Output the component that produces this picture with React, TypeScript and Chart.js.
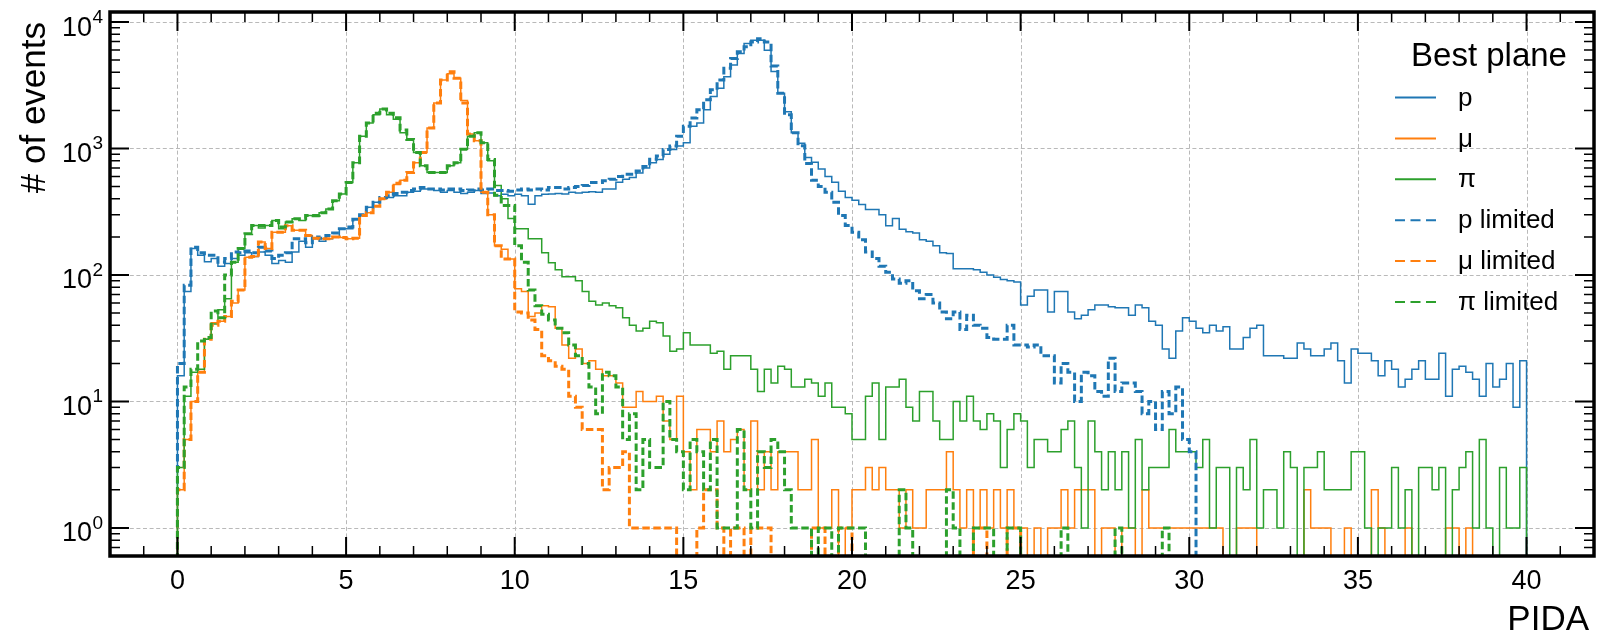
import { useEffect, useRef } from 'react';
import { Chart, registerables } from 'chart.js';

Chart.register(...registerables);

// Histogram binning: 200 bins of width 0.2 starting at PIDA = 0
const BIN_START = 0;
const BIN_WIDTH = 0.2;

// Event counts per bin, "Best plane" selection
const pCounts = [
  16, 74, 162, 143, 127, 135, 117, 123, 135, 143,
  150, 140, 152, 143, 123, 130, 126, 152, 185, 166,
  193, 185, 193, 200, 232, 232, 276, 295, 343, 375,
  400, 410, 423, 423, 450, 460, 478, 478, 465, 450,
  465, 450, 440, 450, 465, 440, 445, 423, 435, 423,
  435, 423, 363, 423, 435, 436, 440, 436, 450, 445,
  450, 455, 450, 478, 478, 540, 571, 590, 640, 700,
  773, 820, 900, 980, 1045, 1110, 1500, 1592, 2026, 2576,
  2997, 3700, 4570, 5640, 6755, 7170, 7170, 5990, 4070, 2740,
  1950, 1330, 1100, 850, 780, 690, 600, 540, 460, 410,
  390, 360, 330, 330, 300, 245, 280, 230, 220, 215,
  190, 185, 170, 150, 148, 112, 112, 112, 110, 105,
  100, 96, 92, 90, 88, 58, 68, 76, 76, 51,
  74, 74, 51, 45, 48, 53, 58, 58, 56, 55,
  55, 48, 58, 55, 43, 40, 26, 22, 36, 46,
  43, 38, 35, 40, 36, 39, 26, 26, 32, 38,
  40, 23, 23, 23, 22, 22, 29, 26, 23, 23,
  26, 29, 21, 14, 26, 24, 24, 21, 16, 21,
  18, 13, 15, 18, 21, 15, 15, 24, 11, 18,
  19, 17, 15, 11, 20, 13, 15, 20, 9, 21,
];

const muCounts = [
  2, 5, 10, 17, 31, 42, 43, 47, 60, 76,
  138, 140, 182, 162, 218, 218, 245, 226, 226, 205,
  195, 193, 193, 200, 198, 193, 195, 295, 310, 350,
  400, 450, 520, 560, 645, 770, 930, 1450, 2290, 3480,
  3900, 3600, 2400, 1300, 1150, 450, 300, 170, 160, 134,
  78, 74, 47, 50, 57, 56, 38, 28, 22, 26,
  20, 21, 18, 16, 16, 14, 9, 9, 12, 10,
  10, 11, 7, 5, 11, 4, 2, 6, 6, 4,
  7, 4, 5, 6, 2, 7, 2, 4, 2, 4,
  4, 4, 2, 2, 5, 1, 1, 2, 0, 1,
  2, 2, 3, 2, 3, 2, 2, 1, 2, 1,
  1, 2, 2, 2, 4, 2, 1, 2, 1, 2,
  1, 2, 1, 2, 1, 1, 0, 1, 0, 1,
  1, 2, 1, 2, 2, 2, 0, 1, 1, 0,
  1, 1, 0, 2, 1, 1, 1, 1, 1, 1,
  1, 1, 1, 1, 1, 0, 0, 1, 1, 1,
  0, 0, 0, 0, 0, 0, 0, 2, 1, 1,
  1, 0, 0, 1, 0, 0, 0, 2, 1, 0,
  0, 0, 1, 0, 0, 0, 0, 0, 1, 1,
  0, 1, 0, 0, 0, 0, 0, 0, 0, 0,
];

const piCounts = [
  3, 11, 17, 18, 31, 41, 53, 65, 126, 162,
  212, 246, 235, 246, 270, 232, 262, 278, 270, 295,
  290, 310, 333, 387, 436, 538, 773, 1250, 1590, 1850,
  2050, 1850, 1700, 1330, 1180, 930, 730, 645, 645, 645,
  730, 773, 985, 1250, 1330, 1110, 800, 510, 400, 280,
  232, 232, 193, 193, 150, 125, 110, 97, 97, 90,
  74, 62, 58, 60, 57, 55, 46, 40, 36, 38,
  43, 42, 33, 25, 26, 35, 28, 28, 28, 24,
  25, 18, 23, 23, 23, 18, 12, 18, 14, 19,
  18, 13, 13, 15, 14, 11, 14, 9, 9, 8,
  5, 5, 11, 14, 5, 13, 13, 15, 9, 7,
  12, 12, 7, 5, 5, 10, 7, 11, 7, 6,
  8, 7, 3, 6, 8, 7, 3, 5, 5, 4,
  4, 6, 7, 3, 1, 7, 4, 2, 4, 2,
  4, 1, 5, 2, 3, 3, 3, 6, 4, 4,
  4, 3, 5, 1, 3, 3, 0, 3, 2, 5,
  1, 2, 2, 1, 4, 3, 0, 3, 3, 4,
  2, 2, 2, 2, 4, 4, 1, 0, 1, 1,
  3, 1, 2, 0, 3, 3, 2, 3, 0, 2,
  3, 4, 1, 5, 1, 0, 3, 1, 1, 3,
];

// Event counts per bin, "limited" selection
const pLimitedCounts = [
  20, 83, 166, 150, 143, 143, 126, 135, 152, 150,
  155, 150, 166, 155, 135, 143, 150, 193, 193, 180,
  200, 195, 205, 215, 232, 240, 276, 300, 343, 375,
  410, 423, 440, 450, 465, 478, 492, 478, 478, 470,
  478, 478, 465, 470, 478, 470, 478, 465, 465, 460,
  470, 478, 470, 478, 470, 492, 492, 478, 492, 500,
  510, 538, 538, 555, 571, 600, 626, 626, 665, 720,
  822, 873, 980, 1045, 1252, 1500, 1742, 2026, 2427, 2908,
  3485, 4303, 5155, 5810, 6360, 6960, 7390, 6960, 4500, 2740,
  1850, 1330, 1050, 760, 560, 500, 450, 375, 295, 246,
  218, 190, 152, 135, 117, 105, 93, 86, 90, 75,
  65, 70, 60, 51, 45, 51, 37, 48, 40, 38,
  32, 31, 31, 40, 28, 28, 27, 28, 23, 23,
  14, 20, 17, 10, 17, 16, 12, 11, 22, 12,
  14, 14, 12, 8, 10, 6, 12, 8, 13, 5,
  4, 0, 0, 0, 0, 0, 0, 0, 0, 0,
  0, 0, 0, 0, 0, 0, 0, 0, 0, 0,
  0, 0, 0, 0, 0, 0, 0, 0, 0, 0,
  0, 0, 0, 0, 0, 0, 0, 0, 0, 0,
  0, 0, 0, 0, 0, 0, 0, 0, 0, 0,
];

const muLimitedCounts = [
  2, 5, 10, 17, 31, 40, 43, 47, 62, 76,
  138, 140, 182, 162, 218, 218, 245, 226, 226, 205,
  195, 193, 193, 200, 198, 193, 195, 295, 310, 350,
  400, 450, 530, 560, 645, 770, 930, 1450, 2290, 3480,
  4050, 3600, 2290, 1300, 1150, 450, 300, 170, 134, 134,
  51, 50, 44, 37, 23, 21, 19, 18, 11, 9,
  6, 6, 6, 2, 3, 3, 4, 1, 1, 1,
  1, 1, 1, 1, 0, 0, 0, 1, 2, 2,
  1, 0, 1, 1, 0, 1, 1, 1, 0, 0,
  0, 0, 0, 0, 1, 1, 0, 0, 1, 1,
  0, 0, 0, 0, 0, 0, 0, 0, 0, 0,
  0, 0, 0, 0, 0, 0, 0, 0, 1, 1,
  0, 0, 0, 1, 1, 0, 0, 0, 0, 0,
  0, 0, 0, 0, 0, 0, 0, 0, 0, 0,
  0, 0, 0, 0, 0, 0, 0, 0, 0, 0,
  0, 0, 0, 0, 0, 0, 0, 0, 0, 0,
  0, 0, 0, 0, 0, 0, 0, 0, 0, 0,
  0, 0, 0, 0, 0, 0, 0, 0, 0, 0,
  0, 0, 0, 0, 0, 0, 0, 0, 0, 0,
  0, 0, 0, 0, 0, 0, 0, 0, 0, 0,
];

const piLimitedCounts = [
  3, 13, 18, 30, 32, 52, 46, 100, 126, 162,
  212, 246, 246, 246, 270, 240, 262, 278, 278, 295,
  295, 310, 333, 387, 436, 538, 773, 1250, 1590, 1900,
  2050, 1900, 1750, 1400, 1180, 930, 730, 645, 645, 645,
  730, 773, 985, 1250, 1330, 1110, 820, 426, 355, 355,
  170, 126, 76, 57, 49, 44, 38, 35, 28, 23,
  20, 13, 8, 17, 16, 13, 5, 8, 2, 5,
  3, 3, 10, 5, 4, 2, 5, 4, 2, 5,
  1, 1, 1, 6, 2, 1, 4, 3, 5, 4,
  2, 1, 1, 1, 0, 1, 1, 0, 1, 1,
  1, 1, 0, 0, 0, 0, 0, 2, 1, 0,
  0, 0, 0, 0, 2, 1, 0, 0, 1, 1,
  1, 0, 0, 1, 1, 0, 0, 0, 0, 0,
  0, 1, 0, 0, 0, 0, 0, 0, 0, 1,
  0, 0, 0, 0, 0, 0, 1, 0, 0, 0,
  0, 0, 0, 0, 0, 0, 0, 0, 0, 0,
  0, 0, 0, 0, 0, 0, 0, 0, 0, 0,
  0, 0, 0, 0, 0, 0, 0, 0, 0, 0,
  0, 0, 0, 0, 0, 0, 0, 0, 0, 0,
  0, 0, 0, 0, 0, 0, 0, 0, 0, 0,
];

const seriesLabels = ['p', 'μ', 'π', 'p limited', 'μ limited', 'π limited'];
const seriesCounts = [pCounts, muCounts, piCounts, pLimitedCounts, muLimitedCounts, piLimitedCounts];

// Axis ticks
const xMajorTicks = [0, 5, 10, 15, 20, 25, 30, 35, 40];
const yDecades = [0, 1, 2, 3, 4];

const X_MIN = -2;
const X_MAX = 42;
const Y_MIN = 0.64;
const Y_MAX = 12000;

const FONT = '"Liberation Sans", Arial, Helvetica, sans-serif';
const BLUE = '#1f77b4';
const ORANGE = '#ff7f0e';
const GREEN = '#2ca02c';
const seriesColors = [BLUE, ORANGE, GREEN, BLUE, ORANGE, GREEN];
const seriesDashed = [false, false, false, true, true, true];

// Empty bins are sent below the axis floor so the step outline drops out of view.
const EMPTY_LEVEL = 0.05;

function stepOutline(counts: number[]) {
  const level = (c: number) => (c > 0 ? c : EMPTY_LEVEL);
  const pts: { x: number; y: number }[] = [{ x: BIN_START, y: EMPTY_LEVEL }];
  counts.forEach((c, i) => pts.push({ x: BIN_START + i * BIN_WIDTH, y: level(c) }));
  const end = BIN_START + counts.length * BIN_WIDTH;
  pts.push({ x: end, y: level(counts[counts.length - 1]) });
  pts.push({ x: end, y: EMPTY_LEVEL });
  return pts;
}

const decorPlugin = {
  id: 'pidaDecor',
  beforeDatasetsDraw(chart: any) {
    const { ctx, chartArea: a, scales } = chart;
    const xs = scales.x;
    const ys = scales.y;
    ctx.save();
    ctx.strokeStyle = '#b9b9b9';
    ctx.lineWidth = 1;
    ctx.setLineDash([4, 2.6]);
    ctx.beginPath();
    for (const v of xMajorTicks) {
      const px = Math.round(xs.getPixelForValue(v)) + 0.5;
      ctx.moveTo(px, a.top);
      ctx.lineTo(px, a.bottom);
    }
    for (const d of yDecades) {
      const py = Math.round(ys.getPixelForValue(10 ** d)) + 0.5;
      ctx.moveTo(a.left, py);
      ctx.lineTo(a.right, py);
    }
    ctx.stroke();
    ctx.restore();
  },
  afterDatasetsDraw(chart: any) {
    const { ctx, chartArea: a, scales } = chart;
    const xs = scales.x;
    const ys = scales.y;
    ctx.save();
    ctx.setLineDash([]);
    ctx.strokeStyle = '#000';

    // major ticks, pointing inward on all four sides
    ctx.lineWidth = 2;
    ctx.beginPath();
    for (const v of xMajorTicks) {
      const px = xs.getPixelForValue(v);
      ctx.moveTo(px, a.bottom);
      ctx.lineTo(px, a.bottom - 19);
      ctx.moveTo(px, a.top);
      ctx.lineTo(px, a.top + 19);
    }
    for (const d of yDecades) {
      const py = ys.getPixelForValue(10 ** d);
      ctx.moveTo(a.left, py);
      ctx.lineTo(a.left + 19, py);
      ctx.moveTo(a.right, py);
      ctx.lineTo(a.right - 19, py);
    }
    ctx.stroke();

    // minor ticks
    ctx.lineWidth = 1.5;
    ctx.beginPath();
    for (let v = Math.ceil(X_MIN + 0.5); v <= X_MAX - 0.5; v++) {
      if (v % 5 === 0) continue;
      const px = xs.getPixelForValue(v);
      ctx.moveTo(px, a.bottom);
      ctx.lineTo(px, a.bottom - 10);
      ctx.moveTo(px, a.top);
      ctx.lineTo(px, a.top + 10);
    }
    for (let d = -1; d <= 4; d++) {
      for (let m = 2; m <= 9; m++) {
        const val = m * 10 ** d;
        if (val < Y_MIN || val > Y_MAX) continue;
        const py = ys.getPixelForValue(val);
        ctx.moveTo(a.left, py);
        ctx.lineTo(a.left + 10, py);
        ctx.moveTo(a.right, py);
        ctx.lineTo(a.right - 10, py);
      }
    }
    ctx.stroke();

    // axes frame
    ctx.lineWidth = 3.5;
    ctx.strokeRect(a.left, a.top, a.right - a.left, a.bottom - a.top);

    // x tick labels
    ctx.fillStyle = '#000';
    ctx.font = `27px ${FONT}`;
    ctx.textAlign = 'center';
    ctx.textBaseline = 'alphabetic';
    for (const v of xMajorTicks) {
      ctx.fillText(String(v), xs.getPixelForValue(v), 589);
    }

    // y tick labels as powers of ten
    const labelRight = a.left - 7;
    for (const d of yDecades) {
      const py = ys.getPixelForValue(10 ** d);
      ctx.font = `19px ${FONT}`;
      ctx.textAlign = 'right';
      const expText = String(d);
      const ew = ctx.measureText(expText).width;
      ctx.fillText(expText, labelRight, py + 1);
      ctx.font = `27px ${FONT}`;
      ctx.fillText('10', labelRight - ew - 0.5, py + 13.5);
    }

    // axis titles
    ctx.font = `35px ${FONT}`;
    ctx.textAlign = 'right';
    ctx.fillText('PIDA', a.right - 5, 630);
    ctx.save();
    ctx.translate(45, a.top + 10);
    ctx.rotate(-Math.PI / 2);
    ctx.textAlign = 'right';
    ctx.fillText('# of events', 0, 0);
    ctx.restore();

    // legend
    const handleX0 = 1395;
    const handleX1 = 1436;
    const textX = 1458;
    const rowY0 = 97.5;
    const rowStep = 40.9;
    ctx.font = `33px ${FONT}`;
    ctx.textAlign = 'center';
    ctx.textBaseline = 'alphabetic';
    ctx.fillText('Best plane', 1489, 66);
    ctx.font = `26px ${FONT}`;
    ctx.textAlign = 'left';
    ctx.textBaseline = 'middle';
    seriesLabels.forEach((label, i) => {
      const yRow = rowY0 + i * rowStep;
      ctx.strokeStyle = seriesColors[i];
      ctx.lineWidth = 2;
      ctx.setLineDash(seriesDashed[i] ? [10, 5.5] : []);
      ctx.beginPath();
      ctx.moveTo(handleX0, yRow);
      ctx.lineTo(handleX1, yRow);
      ctx.stroke();
      ctx.fillStyle = '#000';
      ctx.fillText(label, textX, yRow + 1);
    });
    ctx.restore();
  },
};

export default function App() {
  const canvasRef = useRef<HTMLCanvasElement | null>(null);

  useEffect(() => {
    const canvas = canvasRef.current;
    if (!canvas) return;
    const datasets = seriesCounts.map((counts, i) => ({
      label: seriesLabels[i],
      data: stepOutline(counts),
      borderColor: seriesColors[i],
      backgroundColor: seriesColors[i],
      borderWidth: seriesDashed[i] ? 3 : 1.5,
      borderDash: seriesDashed[i] ? [7.5, 3.5] : [],
      stepped: 'before',
      pointRadius: 0,
      pointHoverRadius: 0,
      fill: false,
      tension: 0,
      order: seriesCounts.length - i,
    }));

    const chart = new Chart(canvas, {
      type: 'line',
      data: { datasets } as any,
      options: {
        animation: false,
        responsive: false,
        devicePixelRatio: 1,
        events: [],
        layout: { padding: { left: 110, top: 12, right: 3, bottom: 77 } },
        plugins: {
          legend: { display: false },
          tooltip: { enabled: false },
          title: { display: false },
        },
        scales: {
          x: { type: 'linear', min: X_MIN, max: X_MAX, display: false },
          y: { type: 'logarithmic', min: Y_MIN, max: Y_MAX, display: false },
        },
      } as any,
      plugins: [decorPlugin],
    });
    return () => chart.destroy();
  }, []);

  return (
    <div style={{ position: 'absolute', left: 0, top: 0, width: 1597, height: 633, background: '#fff' }}>
      <canvas ref={canvasRef} width={1597} height={633} style={{ display: 'block' }} />
    </div>
  );
}
